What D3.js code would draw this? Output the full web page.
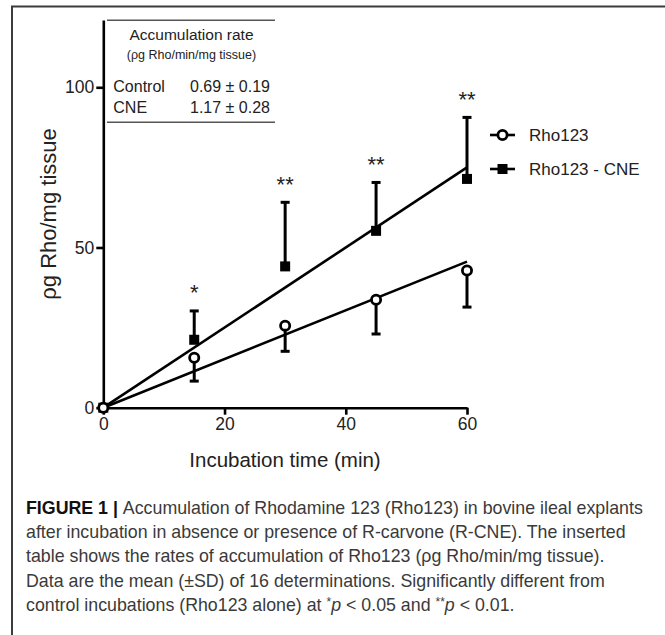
<!DOCTYPE html>
<html>
<head>
<meta charset="utf-8">
<script src="https://cdn.jsdelivr.net/npm/d3@7"></script>
<style>
body { margin: 0; background: #fff; }
svg { display: block; }
</style>
</head>
<body>
<div id="plot"></div>
<script>
// values
const times = [0, 15, 30, 45, 60];
const rhoMean = [0, 15.6, 25.6, 33.7, 42.8];
const rhoSD = [0, 7.3, 8.0, 10.7, 11.4];
const cneMean = [0, 21.2, 44.1, 55.2, 71.4];
const cneSD = [0, 9.0, 20.0, 15.1, 19.2];
// slopes of the two fitted lines (Rho123, Rho123 - CNE)
const fitSlopes = [0.76, 1.25];
const seriesNames = ["Rho123", "Rho123 - CNE"];
const sigTimes = [15, 30, 45, 60];
const sigMarks = ["*", "**", "**", "**"];
const xTicks = [0, 20, 40, 60];
const yTicks = [0, 50, 100];
// inserted table
const rateRows = ["Control", "CNE"];
const rateMean = [0.69, 1.17];
const rateSD = [0.19, 0.28];
// caption, one entry per line, pieces with a style tag
const captionLines = [
    [["FIGURE 1 | ", "b"], ["Accumulation of Rhodamine 123 (Rho123) in bovine ileal explants", ""]],
    [["after incubation in absence or presence of R-carvone (R-CNE). The inserted", ""]],
    [["table shows the rates of accumulation of Rho123 (\u03c1g Rho/min/mg tissue).", ""]],
    [["Data are the mean (\u00b1SD) of 16 determinations. Significantly different from", ""]],
    [["control incubations (Rho123 alone) at ", ""], ["*", "sup"], ["p", "i"], [" < 0.05 and ", ""],
     ["**", "sup"], ["p", "i"], [" < 0.01.", ""]]
];

const w = 665;
const h = 635;
const font = "'Liberation Sans', Arial, sans-serif";

const svg = d3.select("#plot")
    .append("svg")
    .attr("width", w)
    .attr("height", h)
    .style("font-family", font);

//Frame (top and left only)
svg.append("path")
    .attr("d", "M12,635V6.5H665")
    .attr("fill", "none")
    .attr("stroke", "#3c3c3c")
    .attr("stroke-width", 2);

//Scales
const x = d3.scaleLinear().domain([0, 60]).range([103.3, 467]);
const y = d3.scaleLinear().domain([0, 121]).range([407.7, 20]);

//Axes
const xAxis = d3.axisBottom(x).tickValues(xTicks).tickSize(7).tickSizeOuter(0).tickPadding(3);
const yAxis = d3.axisLeft(y).tickValues(yTicks).tickSize(7).tickSizeOuter(0).tickPadding(2);

const gx = svg.append("g")
    .attr("transform", "translate(0," + y(0) + ")")
    .call(xAxis);
const gy = svg.append("g")
    .attr("transform", "translate(" + x(0) + ",0)")
    .call(yAxis);

[gx, gy].forEach(g => {
    g.select(".domain").attr("stroke", "#000").attr("stroke-width", 2.6);
    g.selectAll(".tick line").attr("stroke", "#000").attr("stroke-width", 2.6);
    g.selectAll(".tick text")
        .attr("fill", "#222")
        .style("font-family", font)
        .style("font-size", "17.5px");
});

//Axis titles
svg.append("text")
    .attr("x", 285)
    .attr("y", 467)
    .attr("text-anchor", "middle")
    .attr("fill", "#222")
    .style("font-size", "20.5px")
    .text("Incubation time (min)");

svg.append("text")
    .attr("transform", "rotate(-90)")
    .attr("x", -214)
    .attr("y", 56)
    .attr("text-anchor", "middle")
    .attr("fill", "#222")
    .style("font-size", "22px")
    .text("\u03c1g Rho/mg tissue");

//Fitted lines
svg.append("g")
    .selectAll("line")
    .data(fitSlopes)
    .join("line")
    .attr("x1", x(0))
    .attr("y1", y(0))
    .attr("x2", x(60))
    .attr("y2", d => y(d * 60))
    .attr("stroke", "#000")
    .attr("stroke-width", 2.6);

const rho = times.map((t, i) => ({ t: t, m: rhoMean[i], sd: rhoSD[i] }));
const cne = times.map((t, i) => ({ t: t, m: cneMean[i], sd: cneSD[i] }));

//Error bars: Rho123 downward, CNE upward
const drawErr = (data, dir) => {
    const g = svg.append("g").attr("stroke", "#000").attr("stroke-width", 3);
    const d2 = data.filter(d => d.sd > 0);
    g.selectAll(".stem")
        .data(d2)
        .join("line")
        .attr("x1", d => x(d.t))
        .attr("x2", d => x(d.t))
        .attr("y1", d => y(d.m))
        .attr("y2", d => y(d.m + dir * d.sd));
    g.selectAll(".cap")
        .data(d2)
        .join("line")
        .attr("x1", d => x(d.t) - 4.5)
        .attr("x2", d => x(d.t) + 4.5)
        .attr("y1", d => y(d.m + dir * d.sd))
        .attr("y2", d => y(d.m + dir * d.sd));
};
drawErr(cne, 1);
drawErr(rho, -1);

//Markers
svg.append("g")
    .selectAll("rect")
    .data(cne)
    .join("rect")
    .attr("x", d => x(d.t) - 5)
    .attr("y", d => y(d.m) - 5)
    .attr("width", 10)
    .attr("height", 10)
    .attr("fill", "#000");

svg.append("g")
    .selectAll("circle")
    .data(rho)
    .join("circle")
    .attr("cx", d => x(d.t))
    .attr("cy", d => y(d.m))
    .attr("r", 4.6)
    .attr("fill", "#fff")
    .attr("stroke", "#000")
    .attr("stroke-width", 2.8);

//Significance stars above CNE error bars
svg.append("g")
    .selectAll("text")
    .data(sigTimes)
    .join("text")
    .attr("x", d => x(d))
    .attr("y", d => {
        const i = times.indexOf(d);
        return y(cneMean[i] + cneSD[i]) - 10.5;
    })
    .attr("text-anchor", "middle")
    .attr("fill", "#222")
    .style("font-size", "22px")
    .text((d, i) => sigMarks[i]);

//Legend
const leg = svg.append("g")
    .selectAll("g")
    .data(seriesNames)
    .join("g")
    .attr("transform", (d, i) => "translate(490," + (135 + i * 34) + ")");
leg.append("line")
    .attr("x1", 0).attr("x2", 25)
    .attr("stroke", "#000")
    .attr("stroke-width", 2.6);
leg.filter((d, i) => i === 0).append("circle")
    .attr("cx", 12.5).attr("r", 4.6)
    .attr("fill", "#fff").attr("stroke", "#000").attr("stroke-width", 2.8);
leg.filter((d, i) => i === 1).append("rect")
    .attr("x", 7.5).attr("y", -5).attr("width", 10).attr("height", 10)
    .attr("fill", "#000");
leg.append("text")
    .attr("x", 39)
    .attr("dy", "0.35em")
    .attr("fill", "#222")
    .style("font-size", "17px")
    .text(d => d);

//Inserted table
const tbl = svg.append("g").attr("fill", "#222");
tbl.selectAll("line")
    .data([20.3, 122.3])
    .join("line")
    .attr("x1", 107).attr("x2", 275)
    .attr("y1", d => d).attr("y2", d => d)
    .attr("stroke", "#555")
    .attr("stroke-width", 1.5);
tbl.append("text")
    .attr("x", 191.5).attr("y", 39.5)
    .attr("text-anchor", "middle")
    .style("font-size", "15.5px")
    .text("Accumulation rate");
tbl.append("text")
    .attr("x", 191.5).attr("y", 58.5)
    .attr("text-anchor", "middle")
    .style("font-size", "12.5px")
    .text("(\u03c1g Rho/min/mg tissue)");
tbl.selectAll(".row")
    .data(rateRows)
    .join("text")
    .attr("x", 113.3)
    .attr("y", (d, i) => 91.7 + i * 21.6)
    .style("font-size", "16px")
    .text(d => d);
tbl.selectAll(".val")
    .data(rateMean)
    .join("text")
    .attr("x", 190)
    .attr("y", (d, i) => 91.7 + i * 21.6)
    .style("font-size", "16px")
    .text((d, i) => d.toFixed(2) + " \u00b1 " + rateSD[i].toFixed(2));

//Caption
const cap = svg.append("g")
    .style("font-size", "17.8px")
    .attr("fill", "#3a3a3a");
captionLines.forEach((line, li) => {
    const t = cap.append("text")
        .attr("x", 26)
        .attr("y", 514 + li * 24.2);
    line.forEach(p => {
        const s = t.append("tspan").text(p[0]);
        if (p[1] === "b") s.attr("font-weight", "bold").attr("fill", "#111");
        if (p[1] === "i") s.attr("font-style", "italic").attr("dy", 5);
        if (p[1] === "sup") s.style("font-size", "12px").attr("dy", -5);
    });
});
</script>
</body>
</html>
